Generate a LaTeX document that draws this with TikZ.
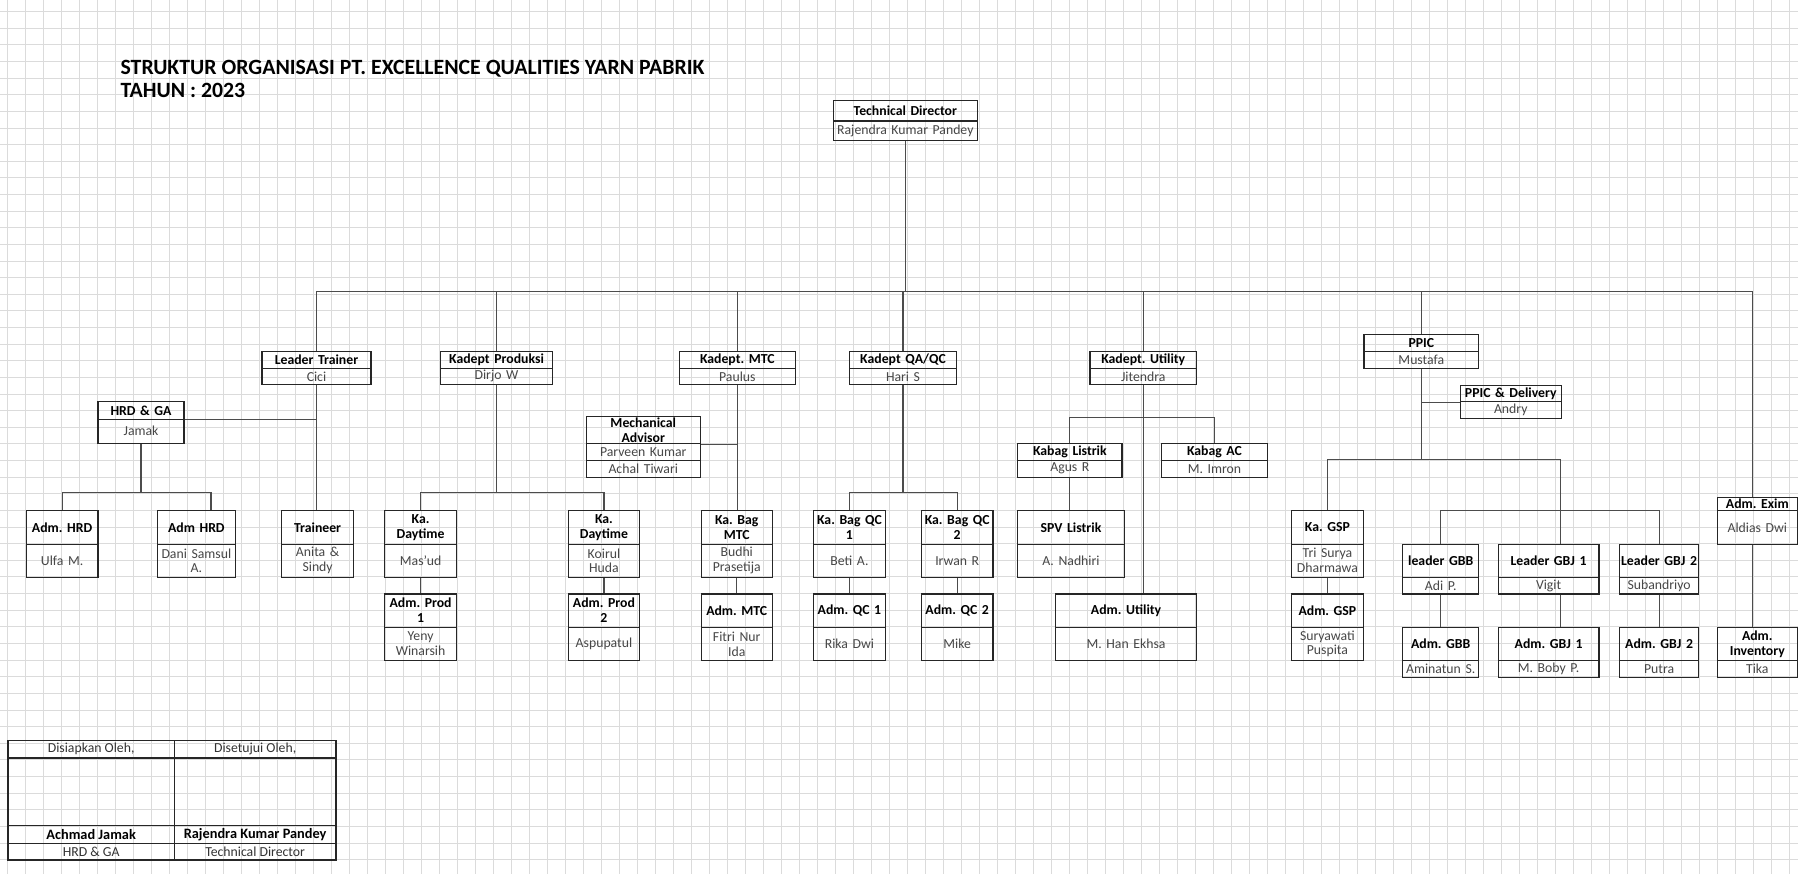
\documentclass[tikz,border=0pt]{standalone}
\usepackage{fontspec}
\setmainfont{Carlito}
\frenchspacing
\newcommand{\orgcell}[8]{%
  \pgfmathsetmacro{\orgw}{#3-#2}%
  \node[hcell, text width=\orgw pt, minimum height={(#5-#4)*1pt}, anchor=north west] (#1-h) at (#2,#4) {#7};
  \node[ncell, text width=\orgw pt, minimum height={(#6-#5)*1pt}, anchor=north west] (#1-n) at (#2,#5) {#8};
}
\tikzset{
  gridline/.style={draw=gray!28, line width=0.5pt},
  cellbase/.style={draw=black!85, line width=1pt, inner sep=0pt, align=center},
  hcell/.style={cellbase, font=\frenchspacing\bfseries\fontsize{12}{13}\selectfont, text=black},
  ncell/.style={cellbase, font=\frenchspacing\fontsize{12}{13}\selectfont, text=black!72},
  conn/.style={draw=black!70, line width=1pt},
  titletext/.style={font=\bfseries\fontsize{19}{21}\selectfont, anchor=west, inner sep=0pt},
  signtext/.style={font=\fontsize{12}{13}\selectfont, text=black!80, inner sep=0pt},
  signbold/.style={font=\bfseries\fontsize{12.5}{13}\selectfont, inner sep=0pt},
  tabline/.style={draw=black!85, line width=1pt}
}
\begin{document}
\begin{tikzpicture}[x=1pt,y=-1pt]
\useasboundingbox (0,0) rectangle (1568,762);
\fill[white] (0,0) rectangle (1568,762);
% spreadsheet grid
\foreach \i in {0,...,99} \draw[gridline] ({6.4+15.7*\i},0) -- ({6.4+15.7*\i},762);
\foreach \j in {0,...,51} \draw[gridline] (0,{10+14.5*\j}) -- (1568,{10+14.5*\j});

% title
\node[titletext] (title1) at (105,60) {STRUKTUR ORGANISASI PT. EXCELLENCE QUALITIES YARN PABRIK};
\node[titletext] (title2) at (105,79) {TAHUN : 2023};

% boxes
\orgcell{td}{726}{852}{87}{105}{122}{Technical Director}{Rajendra Kumar Pandey}
\orgcell{lt}{228}{323}{306}{320.5}{335}{Leader Trainer}{Cici}
\orgcell{kp}{384}{481}{306}{320.5}{335}{Kadept Produksi}{Dirjo W}
\orgcell{km}{592}{693}{306}{320.5}{335}{Kadept. MTC}{Paulus}
\orgcell{kq}{740}{834}{306}{320.5}{335}{Kadept QA/QC}{Hari S}
\orgcell{ku}{950}{1043}{306}{320.5}{335}{Kadept. Utility}{Jitendra}
\orgcell{ppic}{1189}{1289}{291.5}{306}{321}{PPIC}{Mustafa}
\orgcell{ppd}{1273}{1361}{335.6}{350}{364.5}{PPIC \& Delivery}{Andry}
\orgcell{hrd}{85}{160}{350}{365}{386}{HRD \& GA}{Jamak}
% mechanical advisor (three cells)
\node[hcell, text width=99.7pt, minimum height=23.6pt, anchor=north west] (mech-h) at (510.6,363) {Mechanical\\Advisor};
\node[ncell, text width=99.7pt, minimum height=14.4pt, anchor=north west] (mech-n1) at (510.6,386.6) {Parveen Kumar};
\node[ncell, text width=99.7pt, minimum height=14.6pt, anchor=north west] (mech-n2) at (510.6,401) {Achal Tiwari};
\orgcell{kl}{887}{978}{386.6}{401}{415.6}{Kabag Listrik}{Agus R}
\orgcell{kac}{1012.5}{1104.7}{386.6}{401}{415.6}{Kabag AC}{M. Imron}
% row 445-503
\orgcell{ah1}{22.4}{84.9}{445}{474}{503}{Adm. HRD}{Ulfa M.}
\orgcell{ah2}{136.6}{204.9}{445}{474}{503}{Adm HRD}{Dani Samsul\\A.}
\orgcell{tr}{245}{308}{445}{474}{503}{Traineer}{Anita \&\\Sindy}
\orgcell{kd1}{335}{397.6}{445}{474}{503}{Ka.\\Daytime}{Mas'ud}
\orgcell{kd2}{495}{557.4}{445}{474}{503}{Ka.\\Daytime}{Koirul\\Huda}
\orgcell{kbm}{611}{673}{445}{474}{503}{Ka. Bag\\MTC}{Budhi\\Prasetija}
\orgcell{qc1}{709}{771.6}{445}{474}{503}{Ka. Bag QC\\1}{Beti A.}
\orgcell{qc2}{803}{865.5}{445}{474}{503}{Ka. Bag QC\\2}{Irwan R}
\orgcell{spv}{887}{980}{445}{474}{503}{SPV Listrik}{A. Nadhiri}
\orgcell{gsp}{1125.7}{1188.5}{445}{474}{503}{Ka. GSP}{Tri Surya\\Dharmawa}
\orgcell{exim}{1497}{1567}{433}{445}{474}{Adm. Exim}{Aldias Dwi}
% leaders
\orgcell{lgbb}{1222.6}{1289.2}{474}{503}{517.5}{leader GBB}{Adi P.}
\orgcell{lgbj1}{1306}{1394}{474}{503}{517.5}{Leader GBJ 1}{Vigit}
\orgcell{lgbj2}{1411.7}{1481}{474}{503}{517.5}{Leader GBJ 2}{Subandriyo}
% adm row
\orgcell{ap1}{335}{397.6}{517.5}{546.5}{575.5}{Adm. Prod\\1}{Yeny\\Winarsih}
\orgcell{ap2}{495}{557.4}{517.5}{546.5}{575.5}{Adm. Prod\\2}{Aspupatul}
\orgcell{amtc}{611}{673}{517.5}{546.5}{575.5}{Adm. MTC}{Fitri Nur\\Ida}
\orgcell{aqc1}{709}{771.6}{517.5}{546.5}{575.5}{Adm. QC 1}{Rika Dwi}
\orgcell{aqc2}{803}{865.5}{517.5}{546.5}{575.5}{Adm. QC 2}{Mike}
\orgcell{aut}{920}{1043}{517.5}{546.5}{575.5}{Adm. Utility}{M. Han Ekhsa}
\orgcell{agsp}{1125.7}{1188.5}{517.5}{546.5}{575.5}{Adm. GSP}{Suryawati\\Puspita}
\orgcell{agbb}{1222.6}{1289.2}{546.5}{575.5}{590}{Adm. GBB}{Aminatun S.}
\orgcell{agbj1}{1306}{1394}{546.5}{575.5}{590}{Adm. GBJ 1}{M. Boby P.}
\orgcell{agbj2}{1411.7}{1481}{546.5}{575.5}{590}{Adm. GBJ 2}{Putra}
\orgcell{ainv}{1497}{1567}{546.5}{575.5}{590}{Adm.\\Inventory}{Tika}

% bus coordinates
\coordinate (busl) at (276,254);
\coordinate (busr) at (1528,254);
\coordinate (hb) at (53.6,429.5);
\coordinate (hbr) at (184,429.5);
\coordinate (pb) at (0,429.5);
\coordinate (qb) at (0,429.5);
\coordinate (ub) at (0,364);
\coordinate (gb) at (0,401);
\coordinate (lb) at (0,445);
\coordinate (j1) at (1361,0);

% connectors
\draw[conn] (td-n.south) -- (td-n.south |- busl);
\draw[conn] (busl) -- (busr);
\draw[conn] (lt-h.north) -- (lt-h.north |- busl);
\draw[conn] (kp-h.north) -- (kp-h.north |- busl);
\draw[conn] (km-h.north) -- (km-h.north |- busl);
\draw[conn] (kq-h.north) -- (kq-h.north |- busl);
\draw[conn] (ku-h.north) -- (ku-h.north |- busl);
\draw[conn] (ppic-h.north) -- (ppic-h.north |- busl);
\draw[conn] (busr) -- (busr |- exim-h.north);
% HRD
\draw[conn] (lt-n.south) -- (lt-n.south |- tr-h.north);
\draw[conn] (hrd-h.south east) -- (hrd-h.south east -| lt-n.south);
\draw[conn] (hrd-n.south) -- (hrd-n.south |- hb);
\draw[conn] (ah1-h.north) -- (ah1-h.north |- hb) -- (hbr) -- (hbr |- ah2-h.north);
% produksi
\draw[conn] (kp-n.south) -- (kp-n.south |- pb);
\draw[conn] (kd1-h.north) -- (kd1-h.north |- pb) -- (kd2-h.north |- pb) -- (kd2-h.north);
\draw[conn] (kd1-n.south) -- (ap1-h.north);
\draw[conn] (kd2-n.south) -- (ap2-h.north);
% MTC
\draw[conn] (km-n.south) -- (km-n.south |- kbm-h.north);
\draw[conn] (mech-h.south east) -- (mech-h.south east -| km-n.south);
\draw[conn] (kbm-n.south) -- (amtc-h.north);
% QA/QC
\draw[conn] (kq-n.south) -- (kq-n.south |- qb);
\draw[conn] (qc1-h.north) -- (qc1-h.north |- qb) -- (qc2-h.north |- qb) -- (qc2-h.north);
\draw[conn] (qc1-n.south) -- (aqc1-h.north);
\draw[conn] (qc2-n.south) -- (aqc2-h.north);
% Utility
\draw[conn] (ku-n.south) -- (ku-n.south |- aut-h.north);
\draw[conn] (kl-h.north) -- (kl-h.north |- ub) -- (kac-h.north |- ub) -- (kac-h.north);
\draw[conn] (kl-n.south) -- (kl-n.south |- spv-h.north);
% PPIC
\draw[conn] (ppic-n.south) -- (ppic-n.south |- gb);
\draw[conn] (ppd-h.south west) -- (ppd-h.south west -| ppic-n.south);
\draw[conn] (gsp-h.north) -- (gsp-h.north |- gb) -- (j1 |- gb) -- (j1 |- lb);
\draw[conn] (lgbb-h.north) -- (lgbb-h.north |- lb) -- (lgbj2-h.north |- lb) -- (lgbj2-h.north);
\draw[conn] (j1 |- lb) -- (j1 |- lgbj1-h.north);
\draw[conn] (gsp-n.south) -- (agsp-h.north);
\draw[conn] (lgbb-n.south) -- (agbb-h.north);
\draw[conn] (j1 |- lgbj1-n.south) -- (j1 |- agbj1-h.north);
\draw[conn] (lgbj2-n.south) -- (agbj2-h.north);
\draw[conn] (busr |- exim-n.south) -- (busr |- ainv-h.north);

% sign table
\draw[tabline] (7,645.7) rectangle (293,750);
\draw[tabline, line width=1.6pt] (7,645.7) -- (293,645.7);
\draw[tabline] (7,661) -- (293,661);
\draw[tabline] (7,720) -- (293,720);
\draw[tabline] (7,735.5) -- (293,735.5);
\draw[tabline] (152,645.7) -- (152,750);
\node[signtext] (s1) at (79.5,653.4) {Disiapkan Oleh,};
\node[signtext] (s2) at (222.5,653.4) {Disetujui Oleh,};
\node[signbold] (s3) at (79.5,727.8) {Achmad Jamak};
\node[signbold] (s4) at (222.5,727.8) {Rajendra Kumar Pandey};
\node[signtext] (s5) at (79.5,742.8) {HRD \& GA};
\node[signtext] (s6) at (222.5,742.8) {Technical Director};
\end{tikzpicture}
\end{document}
